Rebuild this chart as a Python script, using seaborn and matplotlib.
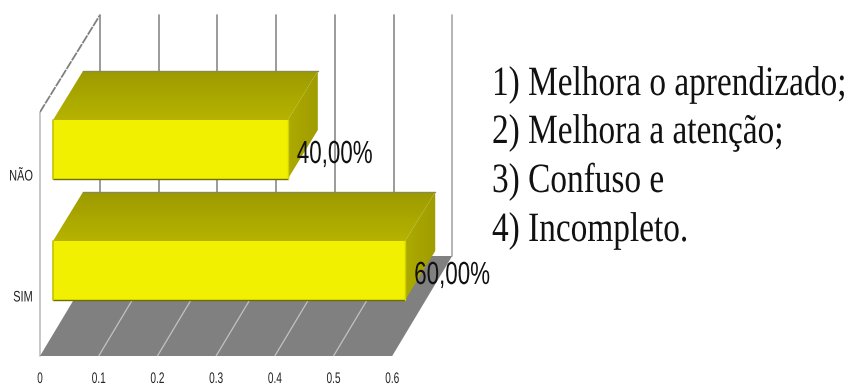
import matplotlib
matplotlib.use("Agg")
import matplotlib.pyplot as plt
import numpy as np
from matplotlib.patches import Polygon
from matplotlib.patheffects import AbstractPathEffect
from matplotlib.transforms import Affine2D
import seaborn as sns

categories = ["NÃO", "SIM"]
shares = [0.40, 0.60]
axis_ticks = [0, 0.1, 0.2, 0.3, 0.4, 0.5, 0.6]
notes = ["1) Melhora o aprendizado;", "2) Melhora a atenção;", "3) Confuso e", "4) Incompleto."]

W, H = 854, 385
PX_X = 587.0   # pixels per unit of share
PX_Y = 121.0   # pixels per category step


class Reshape(AbstractPathEffect):
    """Rescale glyphs about the baseline and a fraction of the text's width."""

    def __init__(self, sx=1.0, sy=1.0, anchor=0.0):
        super().__init__()
        self.sx, self.sy, self.anchor = sx, sy, anchor

    def draw_path(self, renderer, gc, tpath, affine, rgbFace=None):
        box = tpath.get_extents()
        pivot = box.x0 + self.anchor * box.width
        warp = Affine2D().translate(-pivot, 0).scale(self.sx, self.sy).translate(pivot, 0)
        renderer.draw_path(gc, tpath, warp + affine, rgbFace)


sns.set_theme(style="white")
fig = plt.figure(figsize=(W / 100, H / 100), dpi=100, facecolor="white")
ax = fig.add_axes([40 / W, (H - 356) / H, (W - 40) / W, 356 / H])


def cy(px):
    """Category-axis position of a pixel row."""
    return (px - 149.5) / PX_Y


def shaded_face(corners, start_rgb, end_rgb, horizontal, zorder):
    """Fill a polygon with a linear gradient running across its bounding box."""
    pts = np.array(corners)
    ramp = np.linspace(0, 1, 64)[:, None] * (np.array(end_rgb) - np.array(start_rgb)) + np.array(start_rgb)
    ramp = ramp[None, :, :] / 255 if horizontal else ramp[:, None, :] / 255
    img = ax.imshow(ramp, extent=(pts[:, 0].min(), pts[:, 0].max(), pts[:, 1].max(), pts[:, 1].min()),
                    origin="upper", aspect="auto", interpolation="bilinear", zorder=zorder)
    clip = Polygon(pts, closed=True, transform=ax.transData)
    img.set_clip_path(clip)


sns.barplot(x=shares, y=categories, order=categories, orient="h", color="#f0f000",
            saturation=1, width=59 / PX_Y, ax=ax, zorder=5)

# oblique projection: depth moves a point right and up
FLOOR_DX, FLOOR_DY = 60 / PX_X, 100 / PX_Y
wall_top = cy(15)
floor_front = cy(356)
floor_back = floor_front - FLOOR_DY
tick_max = axis_ticks[-1]

# side wall
ax.plot([0, 0], [floor_front, wall_top + FLOOR_DY - 3 / PX_Y], color="#c4c4c4", lw=1.3, zorder=1, clip_on=False)
ax.plot([0, FLOOR_DX], [wall_top + FLOOR_DY - 3 / PX_Y, wall_top], color="#808080", lw=1.3, zorder=1,
        ls=(0, (5, 0.6)))

# back wall grid
for t in axis_ticks:
    shade = "#a8a8a8" if t == tick_max else "#8a8a8a"
    ax.plot([t + FLOOR_DX] * 2, [floor_back, wall_top], color=shade, lw=1.2, zorder=1)

# floor and its grid
ax.add_patch(Polygon([(0, floor_front), (tick_max, floor_front),
                      (tick_max + FLOOR_DX, floor_back), (FLOOR_DX, floor_back)],
                     closed=True, fc="#808080", ec="none", zorder=2))
for t in axis_ticks[1:-1]:
    ax.plot([t, t + FLOOR_DX], [floor_front, floor_back], color="#c2c2c2", lw=0.9, zorder=3)

# extrude each bar back from its front face
BAR_SHIFT = 13 / PX_X
DEPTH_X, DEPTH_Y = 30 / PX_X, 49 / PX_Y

for bar, share in zip(ax.patches[:len(shares)], shares):
    bar.set_x(bar.get_x() + BAR_SHIFT)
    bar.set_edgecolor("none")
    x0, x1 = bar.get_x(), bar.get_x() + bar.get_width()
    top, bottom = sorted((bar.get_y(), bar.get_y() + bar.get_height()))

    shaded_face([(x0, top), (x1, top), (x1 + DEPTH_X, top - DEPTH_Y), (x0 + DEPTH_X, top - DEPTH_Y)],
                (0x9d, 0x9a, 0x00), (0xb6, 0xb3, 0x00), horizontal=False, zorder=4)
    shaded_face([(x1, top), (x1 + DEPTH_X, top - DEPTH_Y), (x1 + DEPTH_X, bottom - DEPTH_Y), (x1, bottom)],
                (0xad, 0xaa, 0x00), (0x9f, 0x9c, 0x00), horizontal=True, zorder=4)
    ax.plot([x0 + DEPTH_X, x1 + DEPTH_X], [top - DEPTH_Y] * 2, color="#8a8a50", lw=1.0, zorder=4.2)
    ax.plot([x0, x1], [bottom, bottom], color="#6f6f00", lw=1.0, zorder=6)
    ax.plot([x0, x0], [top, bottom], color="#c4c400", lw=1.2, zorder=6)
    ax.plot([x1, x1], [top, bottom], color="#d2d200", lw=1.0, zorder=6)
    ax.text(x1 + 9 / PX_X, (top + bottom) / 2 + 13.5 / PX_Y, f"{share * 100:.2f}".replace(".", ",") + "%",
            family="Liberation Sans", fontsize=16.1, color="#111111", va="baseline", ha="left", zorder=8,
            path_effects=[Reshape(sy=1.43)])

ax.set_xlim(0, (W - 40) / PX_X)
ax.set_ylim(cy(356), cy(0))

# axis text
ax.set_xticks(axis_ticks)
ax.set_xticklabels([str(t) for t in axis_ticks], family="Liberation Sans", fontsize=11, color="#222222")
ax.set_yticks([i + 25.5 / PX_Y for i in range(len(categories))])
ax.set_yticklabels(categories, family="Liberation Sans", fontsize=11, color="#222222")
ax.tick_params(axis="x", length=0, pad=11.5)
ax.tick_params(axis="y", length=0, pad=5)
for label in ax.get_xticklabels():
    label.set_path_effects([Reshape(sx=0.66, anchor=0.5)])
for label in ax.get_yticklabels():
    label.set_path_effects([Reshape(sx=0.72, anchor=1.0)])
ax.set_xlabel("")
ax.set_ylabel("")
for spine in ax.spines.values():
    spine.set_visible(False)
ax.patch.set_alpha(0)

# numbered list beside the plot
for row, note in zip([95, 143, 192, 241], notes):
    fig.text(492 / W, 1 - row / H, note, family="Liberation Serif", fontsize=24, color="#111111",
             ha="left", va="baseline", path_effects=[Reshape(sy=1.25)])

fig.savefig("out.png", dpi=100, facecolor="white")
